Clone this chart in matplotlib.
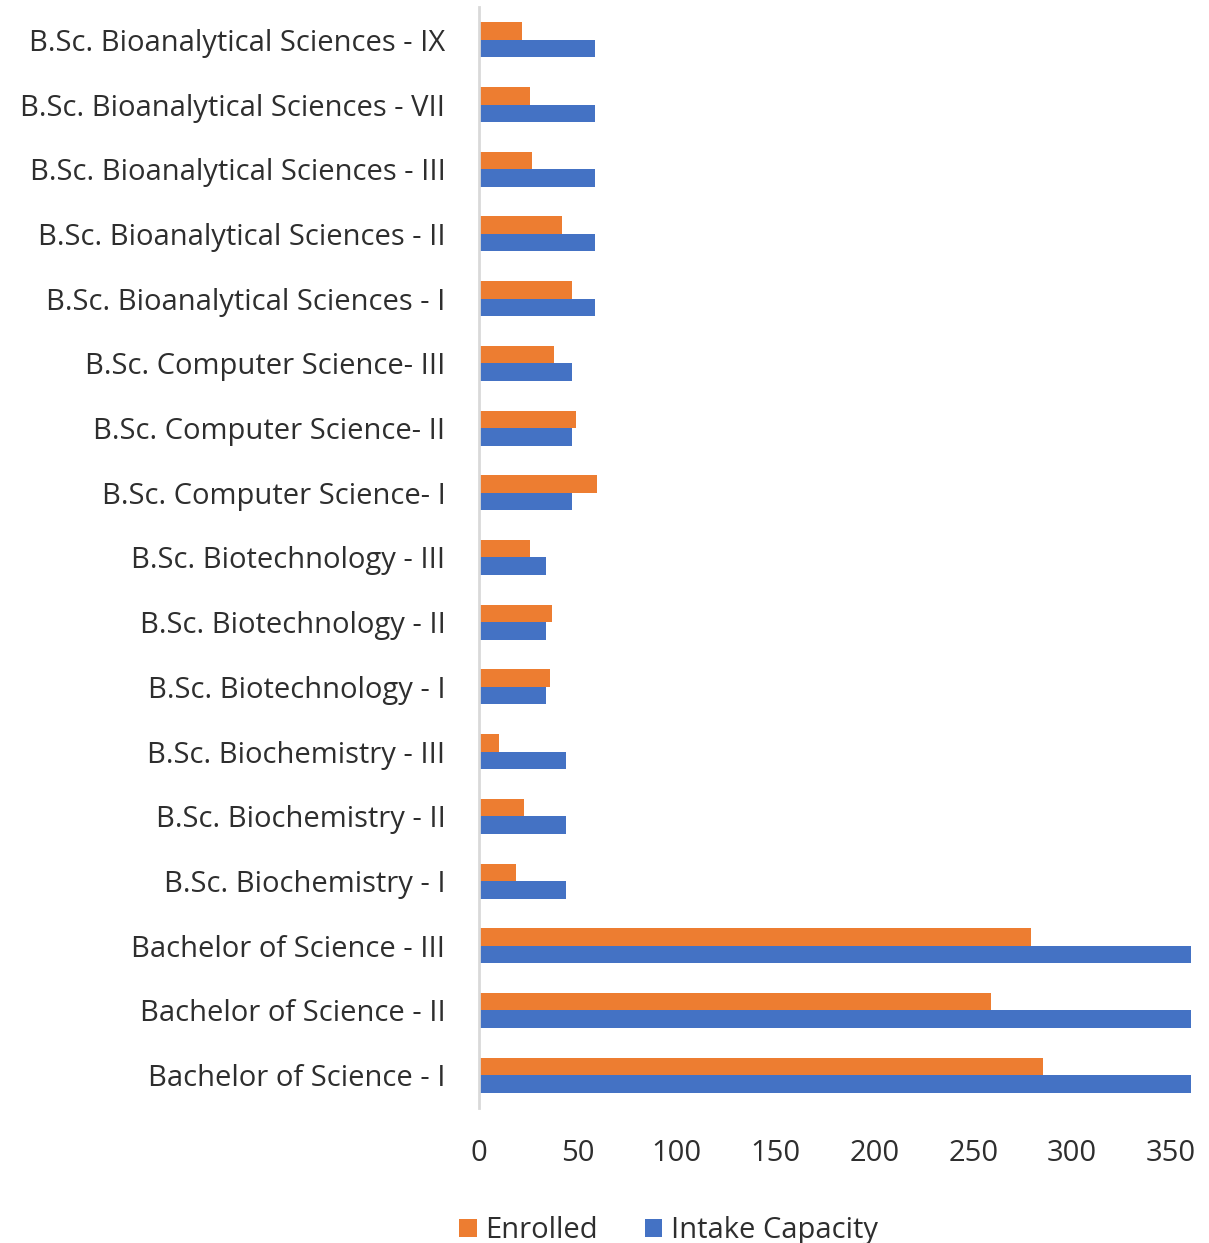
import matplotlib
matplotlib.use("Agg")
import matplotlib.pyplot as plt
import numpy as np

# categories listed bottom to top, as drawn
courses = [
    "Bachelor of Science - I",
    "Bachelor of Science - II",
    "Bachelor of Science - III",
    "B.Sc. Biochemistry - I",
    "B.Sc. Biochemistry - II",
    "B.Sc. Biochemistry - III",
    "B.Sc. Biotechnology - I",
    "B.Sc. Biotechnology - II",
    "B.Sc. Biotechnology - III",
    "B.Sc. Computer Science- I",
    "B.Sc. Computer Science- II",
    "B.Sc. Computer Science- III",
    "B.Sc. Bioanalytical Sciences - I",
    "B.Sc. Bioanalytical Sciences - II",
    "B.Sc. Bioanalytical Sciences - III",
    "B.Sc. Bioanalytical Sciences - VII",
    "B.Sc. Bioanalytical Sciences - IX",
]
enrolled = [285, 259, 279, 19, 23, 10, 36, 37, 26, 60, 49, 38, 47, 42, 27, 26, 22]
intake = [360, 360, 360, 44, 44, 44, 34, 34, 34, 47, 47, 47, 59, 59, 59, 59, 59]
xticks = [0, 50, 100, 150, 200, 250, 300, 350]

ORANGE = "#ED7D31"
BLUE = "#4472C4"
TEXT = "#2e2e2e"
FS = 21

plt.rcParams["font.family"] = ["Open Sans", "DejaVu Sans"]

fig = plt.figure(figsize=(12.09, 12.43), dpi=100)
ax = fig.add_axes([0.396, 0.109, 0.589, 0.885])

y = np.arange(len(courses))
h = 0.27
ax.barh(y + h / 2, enrolled, height=h, color=ORANGE, label="Enrolled")
ax.barh(y - h / 2, intake, height=h, color=BLUE, label="Intake Capacity")

ax.set_xlim(0, 360)
ax.set_ylim(-0.5, len(courses) - 0.5)
ax.set_yticks(y)
ax.set_yticklabels(courses)
ax.set_xticks(xticks)

for s in ["top", "right", "bottom"]:
    ax.spines[s].set_visible(False)
ax.spines["left"].set_color("#d9d9d9")
ax.spines["left"].set_linewidth(2)

ax.tick_params(axis="y", length=0, pad=24, labelsize=FS, labelcolor=TEXT)
ax.tick_params(axis="x", length=0, pad=23, labelsize=FS, labelcolor=TEXT)

handles, labels = ax.get_legend_handles_labels()
fig.legend(handles, labels, loc="center", bbox_to_anchor=(0.553, 0.010), ncol=2,
           frameon=False, fontsize=FS, labelcolor=TEXT, handlelength=0.6,
           handleheight=0.6, handletextpad=0.3, columnspacing=1.6)

fig.savefig("out.png", dpi=100, facecolor="white")
